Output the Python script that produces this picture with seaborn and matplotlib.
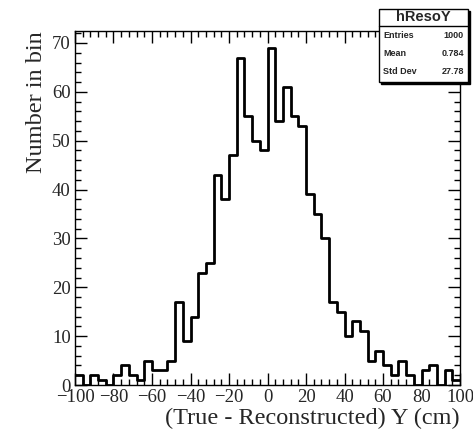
import numpy as np
import pandas as pd
import matplotlib
matplotlib.use('Agg')
import matplotlib.pyplot as plt
from matplotlib.ticker import MultipleLocator
from matplotlib.patches import Rectangle
import seaborn as sns

# histogram hResoY: 50 bins of 4 cm from -100 to 100
bin_edges = np.arange(-100, 101, 4)
counts = [2, 0, 2, 1, 0, 2, 4, 2, 1, 5, 3, 3, 5,
          17, 9, 14, 23, 25, 43, 38, 47, 67, 55, 50, 48,
          69, 54, 61, 55, 53, 39, 35, 30, 17, 15, 10, 13, 11,
          5, 7, 4, 2, 5, 2, 0, 3, 4, 0, 3, 1]
stats_labels = ['Entries', 'Mean', 'Std Dev']
stats_values = ['1000', '0.784', '27.78']

df = pd.DataFrame({'x': (bin_edges[:-1] + bin_edges[1:]) / 2, 'n': counts})

sns.set_style('ticks')
plt.rcParams['font.family'] = ['Liberation Serif', 'DejaVu Serif']

fig = plt.figure(figsize=(4.73, 4.40), dpi=100)
ax = fig.add_axes([75/473, 1 - 385/440, 385/473, 354/440])

sns.histplot(data=df, x='x', weights='n', binwidth=4, binrange=(-100, 100),
             element='step', fill=False, color='black', linewidth=2.0, ax=ax)

ax.set_xlim(-100, 100)
ax.set_ylim(0, 1.05 * max(counts))
ax.xaxis.set_major_locator(MultipleLocator(20))
ax.xaxis.set_minor_locator(MultipleLocator(4))
ax.yaxis.set_major_locator(MultipleLocator(10))
ax.yaxis.set_minor_locator(MultipleLocator(2))
ax.tick_params(which='both', direction='in', top=True, right=True,
               color='black', width=1.0, labelsize=13.5, pad=3)
ax.tick_params(which='major', length=8.5)
ax.tick_params(which='minor', length=4.5)
for s in ax.spines.values():
    s.set_color('black')
    s.set_linewidth(1.0)

ax.set_xlabel('(True - Reconstructed) Y (cm)', fontsize=17.5, loc='right', labelpad=1)
ax.set_ylabel('Number in bin', fontsize=17.5, loc='top', labelpad=4)

# stats box
bx, by, bw, bh = 379/473, 1 - 82/440, 89/473, 73/440
fig.add_artist(Rectangle((bx + 2/473, by - 2/440), bw, bh, transform=fig.transFigure,
                         facecolor='black', edgecolor='black', zorder=5))
fig.add_artist(Rectangle((bx, by), bw, bh, transform=fig.transFigure,
                         facecolor='white', edgecolor='black', linewidth=1.0, zorder=6))
fig.add_artist(plt.Line2D([bx, bx + bw], [1 - 26/440, 1 - 26/440], transform=fig.transFigure,
                          color='black', linewidth=1.0, zorder=7))
fig.text(bx + bw / 2, 1 - 17/440, 'hResoY', ha='center', va='center', fontsize=10.5,
         fontweight='bold', family='Liberation Sans', zorder=8)
for i, (lab, val) in enumerate(zip(stats_labels, stats_values)):
    yy = 1 - (35 + 18 * i) / 440
    fig.text(bx + 4/473, yy, lab, ha='left', va='center', fontsize=6.5,
             fontweight='bold', family='Liberation Sans', zorder=8)
    fig.text(bx + bw - 4/473, yy, val, ha='right', va='center', fontsize=6.5,
             fontweight='bold', family='Liberation Sans', zorder=8)

fig.savefig('out.png', dpi=100)
